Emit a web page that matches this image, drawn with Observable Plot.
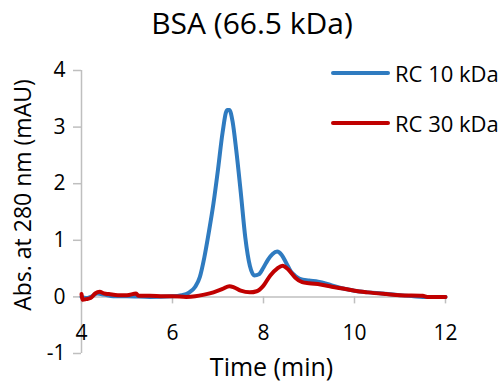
<!DOCTYPE html>
<html><head><meta charset="utf-8">
<script src="https://cdn.jsdelivr.net/npm/d3@7"></script>
<script src="https://cdn.jsdelivr.net/npm/@observablehq/plot@0.6"></script>
<style>
html,body{margin:0;padding:0;background:#fff;}
#wrap{position:relative;width:504px;height:381px;overflow:hidden;font-family:"Open Sans",sans-serif;color:#000;}
#title{position:absolute;left:0;width:504px;top:3px;text-align:center;font-size:30px;line-height:40px;}
.leg{position:absolute;left:331px;height:28px;font-size:22px;line-height:28px;white-space:nowrap;}
.leg .sw{position:absolute;left:0;top:12px;width:59px;height:4px;border-radius:2px;}
.leg .lb{position:absolute;left:64px;top:0;}
svg{display:block}
</style></head>
<body>
<div id="wrap">
  <div id="title">BSA (66.5 kDa)</div>
  <div id="chart"></div>
  <div class="leg" style="top:59px"><span class="sw" style="background:#2f7bc0"></span><span class="lb">RC 10 kDa</span></div>
  <div class="leg" style="top:109px"><span class="sw" style="background:#c00000"></span><span class="lb">RC 30 kDa</span></div>
</div>
<script>
// Data
const seriesNames = ["RC 10 kDa", "RC 30 kDa"];
const timeRC10 = [4.0,4.1,4.2,4.35,4.5,4.7,5.0,5.5,6.0,6.2,6.35,6.5,6.6,6.7,6.8,6.9,7.0,7.1,7.2,7.25,7.32,7.4,7.5,7.6,7.7,7.8,7.9,8.0,8.1,8.2,8.3,8.4,8.5,8.6,8.7,8.8,9.0,9.2,9.4,9.6,9.8,10.0,10.3,10.6,11.0,11.3,11.5,12.0];
const absRC10  = [0.0,-0.02,0.0,0.06,0.04,0.01,0.01,0.0,0.01,0.03,0.07,0.18,0.35,0.7,1.15,1.65,2.25,2.9,3.3,3.3,3.1,2.6,1.85,1.05,0.55,0.38,0.4,0.52,0.66,0.76,0.8,0.74,0.6,0.45,0.37,0.32,0.29,0.27,0.23,0.18,0.14,0.11,0.08,0.06,0.03,0.01,0.0,0.0];
const timeRC30 = [4.0,4.03,4.1,4.2,4.3,4.4,4.5,4.6,4.8,5.0,5.2,5.25,5.5,5.8,6.0,6.3,6.5,6.7,6.9,7.1,7.25,7.35,7.5,7.7,7.85,8.0,8.15,8.3,8.42,8.55,8.7,8.85,9.0,9.25,9.5,9.8,10.0,10.3,10.7,11.0,11.5,11.6,12.0];
const absRC30  = [0.05,-0.05,-0.04,-0.02,0.06,0.09,0.06,0.05,0.03,0.03,0.06,0.02,0.02,0.01,0.01,0.0,0.01,0.04,0.08,0.14,0.19,0.17,0.11,0.08,0.1,0.2,0.38,0.5,0.55,0.48,0.34,0.26,0.24,0.22,0.18,0.14,0.11,0.08,0.05,0.03,0.02,0.0,0.0];
const xTicks = [4,6,8,10,12];
const yTicks = [-1,0,1,2,3,4];
const colors = ["#2f7bc0", "#c00000"];

const rc10 = timeRC10.map((t,i)=>({t, v: absRC10[i]}));
const rc30 = timeRC30.map((t,i)=>({t, v: absRC30[i]}));
const axisColor = "#bfbfbf";
const font = "Open Sans";

const chart = Plot.plot({
  width: 504,
  height: 381,
  marginLeft: 81,
  marginRight: 59,
  marginTop: 70,
  marginBottom: 28,
  style: {fontFamily: font, background: "#fff", color: "#000"},
  x: {domain: [4, 12], axis: null},
  y: {domain: [-1, 4], axis: null},
  marks: [
    // y axis
    Plot.ruleX([4], {stroke: axisColor, strokeWidth: 1.5}),
    Plot.axisY({ticks: yTicks, label: null, tickSize: 8, tickPadding: 8, stroke: axisColor, strokeWidth: 1.5, fill: "#000", fontSize: 21, tickFormat: d => d < 0 ? "-" + Math.abs(d) : String(d)}),
    // x axis at y = 0
    Plot.ruleY([0], {stroke: axisColor, strokeWidth: 1.5}),
    Plot.ruleX(xTicks, {x: d => d, y1: 0, y2: 0, insetBottom: -7, stroke: axisColor, strokeWidth: 1.5}),
    Plot.text(xTicks, {x: d => d, y: 0, dy: 36, text: d => String(d), fontSize: 21, fill: "#000"}),
    // axis titles
    Plot.text(["Time (min)"], {frameAnchor: "bottom", lineAnchor: "bottom", dx: 8, dy: 22, fontSize: 25, fill: "#000"}),
    Plot.text(["Abs. at 280 nm (mAU)"], {frameAnchor: "left", textAnchor: "middle", lineAnchor: "middle", dx: -58, dy: -17, rotate: -90, fontSize: 23, fill: "#000"}),
    // series
    Plot.line(rc10, {x: "t", y: "v", stroke: colors[0], strokeWidth: 4, curve: "monotone-x"}),
    Plot.line(rc30, {x: "t", y: "v", stroke: colors[1], strokeWidth: 4, curve: "monotone-x"})
  ]
});
document.getElementById("chart").appendChild(chart);
</script>
</body></html>
